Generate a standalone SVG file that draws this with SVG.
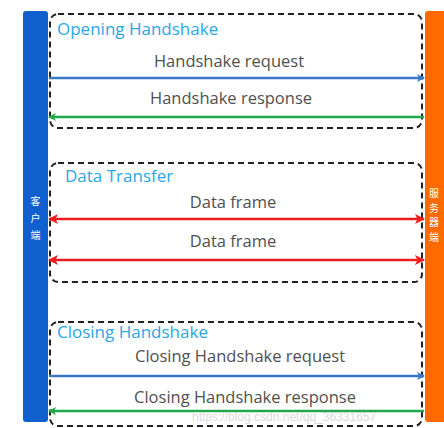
<svg xmlns="http://www.w3.org/2000/svg" width="444" height="428" viewBox="0 0 444 428">
<style>
.box{fill:none;stroke:#222;stroke-width:2;stroke-dasharray:6 4}
.title{font-family:"Open Sans","Noto Sans",sans-serif;font-size:17px;fill:#2BA6E6}
.lbl{font-family:"Open Sans","Noto Sans",sans-serif;font-size:16.5px;fill:#505050;text-anchor:middle}
.cjk{font-family:"Noto Sans CJK SC",sans-serif;font-size:10px;fill:#fff;text-anchor:middle}
.blue{stroke:#3A78C8;stroke-width:2.5;fill:none}
.green{stroke:#22A84A;stroke-width:2.5;fill:none}
.red{stroke:#EE1C1C;stroke-width:2.5;fill:none}
</style>
<defs>
<marker id="ab" markerWidth="8" markerHeight="8" refX="7" refY="4" orient="auto" markerUnits="userSpaceOnUse"><path d="M0,0 L8,4 L0,8 L2,4 Z" fill="#3A78C8"/></marker>
<marker id="ag" markerWidth="8" markerHeight="8" refX="7" refY="4" orient="auto-start-reverse" markerUnits="userSpaceOnUse"><path d="M0,0 L8,4 L0,8 L2,4 Z" fill="#22A84A"/></marker>
<marker id="ar" markerWidth="10" markerHeight="10" refX="9" refY="5" orient="auto-start-reverse" markerUnits="userSpaceOnUse"><path d="M0,0 L10,5 L0,10 L2.5,5 Z" fill="#EE1C1C"/></marker>
</defs>
<rect width="444" height="428" fill="#fff"/>
<g id="client">
<rect x="23" y="11" width="25" height="411" rx="3" fill="#0F5FCF"/>
<text class="cjk" font-size="11"><tspan x="35.5" y="205">客</tspan><tspan x="35.5" y="222">户</tspan><tspan x="35.5" y="239">端</tspan></text>
</g>
<g id="server">
<rect x="425" y="11" width="24" height="411" rx="3" fill="#FF6A00"/>
<text class="cjk"><tspan x="434" y="197">服</tspan><tspan x="434" y="211.5">务</tspan><tspan x="434" y="226">器</tspan><tspan x="434" y="240.5">端</tspan></text>
</g>
<g id="opening">
<rect class="box" x="50" y="14" width="372" height="114" rx="8"/>
<text class="title" x="57" y="35">Opening Handshake</text>
</g>
<g id="data">
<rect class="box" x="50" y="163" width="372" height="119" rx="8"/>
<text class="title" x="65" y="182">Data Transfer</text>
</g>
<g id="closing">
<rect class="box" x="50" y="322" width="372" height="104" rx="8"/>
<text class="title" x="57" y="338">Closing Handshake</text>
</g>
<g id="connectors">
<line class="blue" x1="49" y1="78" x2="424" y2="78" marker-end="url(#ab)"/>
<line class="green" x1="424" y1="117" x2="49" y2="117" marker-end="url(#ag)"/>
<line class="red" x1="49" y1="219" x2="424" y2="219" marker-start="url(#ar)" marker-end="url(#ar)"/>
<line class="red" x1="49" y1="260" x2="424" y2="260" marker-start="url(#ar)" marker-end="url(#ar)"/>
<line class="blue" x1="49" y1="376" x2="424" y2="376" marker-end="url(#ab)"/>
<line class="green" x1="424" y1="411" x2="49" y2="411" marker-end="url(#ag)"/>
<text class="lbl" x="229" y="67">Handshake request</text>
<text class="lbl" x="231" y="104">Handshake response</text>
<text class="lbl" x="233" y="208">Data frame</text>
<text class="lbl" x="233" y="247">Data frame</text>
<text class="lbl" x="240" y="362">Closing Handshake request</text>
<text class="lbl" x="245" y="403">Closing Handshake response</text>
</g>
<text x="192" y="421" font-family="Liberation Sans,sans-serif" font-size="12" fill="#ccc" opacity="0.7">https://blog.csdn.net/qq_36331657</text>
</svg>
